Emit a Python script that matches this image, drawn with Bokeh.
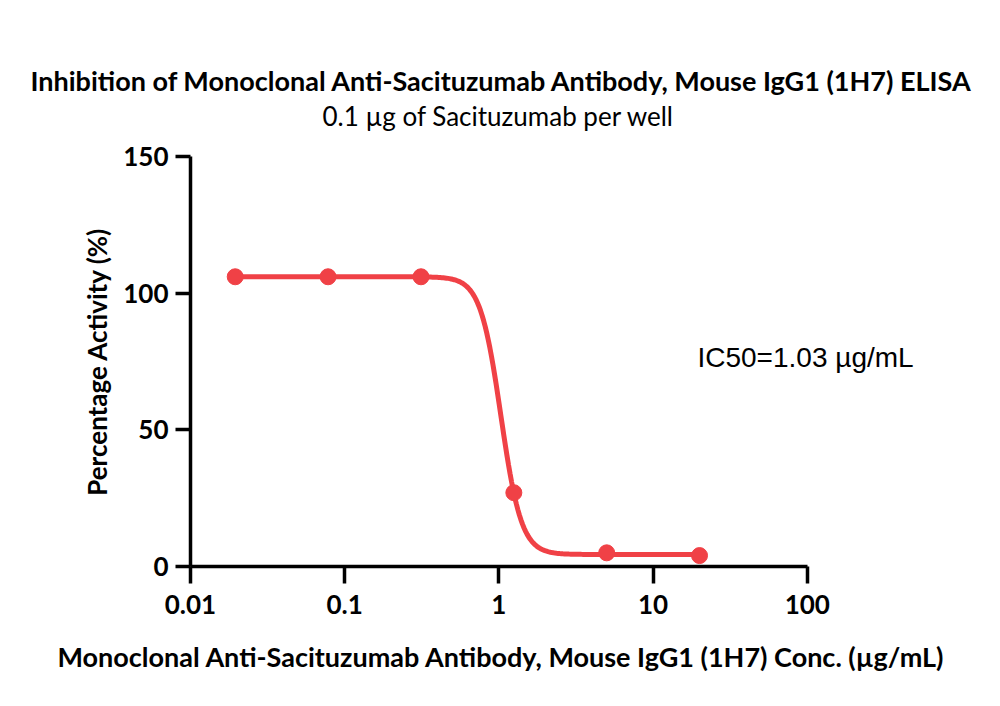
import numpy as np
from bokeh.plotting import figure
from bokeh.models import Title, Label, FixedTicker, Range1d
from bokeh.embed import file_html
from bokeh.resources import INLINE

# measured points (conc in ug/mL, % activity)
conc = [0.0195, 0.078, 0.3125, 1.25, 5.0, 20.0]
activity = [106.0, 106.0, 106.0, 27.0, 5.0, 4.0]

# 4PL fit parameters
fit_top = 106.0
fit_bottom = 4.4
fit_ic50 = 1.03
fit_hill = 6.5

x_tick_vals = [0.01, 0.1, 1, 10, 100]
x_tick_labels = ["0.01", "0.1", "1", "10", "100"]
y_tick_vals = [0, 50, 100, 150]

RED = "#F04146"
FONT = "Lato"

# x range goes to 1000 so the IC50 note fits inside the frame, axis is bounded to 100
p = figure(width=984, height=693, x_axis_type="log",
           x_range=Range1d(0.01, 1000), y_range=Range1d(0, 150),
           output_backend="svg", toolbar_location=None,
           min_border_left=190, min_border_right=23,
           min_border_top=156, min_border_bottom=127)
p.outline_line_color = None
p.grid.visible = False
p.background_fill_color = "white"
p.border_fill_color = "white"

# blank spacer between the frame and the subtitle
spacer = Title(text=" ", text_font_size="2px", standoff=20)
p.add_layout(spacer, "above")
# titles are left aligned with an offset from the frame's left edge
sub = Title(text="0.1 \u00b5g of Sacituzumab per well", align="left",
            text_font=FONT, text_font_size="26px", text_font_style="normal",
            text_color="black", standoff=2, offset=132)
p.add_layout(sub, "above")
ttl = Title(text="Inhibition of Monoclonal Anti-Sacituzumab Antibody, Mouse IgG1 (1H7) ELISA",
            align="left", text_font=FONT, text_font_size="27px",
            text_font_style="bold", text_color="black", standoff=0, offset=-160)
p.add_layout(ttl, "above")

xlab = Title(text="Monoclonal Anti-Sacituzumab Antibody, Mouse IgG1 (1H7) Conc. (\u00b5g/mL)",
             align="left", text_font=FONT, text_font_size="27px",
             text_font_style="bold", text_color="black", standoff=42, offset=-133)
p.add_layout(xlab, "below")

# fitted curve
xc = np.logspace(np.log10(conc[0]), np.log10(conc[-1]), 300)
yc = fit_bottom + (fit_top - fit_bottom) / (1 + (xc / fit_ic50) ** fit_hill)
p.line(xc, yc, line_color=RED, line_width=5)
p.scatter(conc, activity, size=16, fill_color=RED, line_color=RED)

p.add_layout(Label(x=19.4, y=76.5, text="IC50=%.2f \u00b5g/mL" % fit_ic50,
                   text_font="Liberation Sans", text_font_size="28px",
                   text_baseline="middle", text_color="black"))

for ax in (p.xaxis[0], p.yaxis[0]):
    ax.axis_line_width = 3.5
    ax.axis_line_color = "black"
    ax.major_tick_line_width = 3.5
    ax.major_tick_line_color = "black"
    ax.major_tick_in = 0
    ax.minor_tick_line_color = None
    ax.major_label_text_font = FONT
    ax.major_label_text_font_size = "26px"
    ax.major_label_text_font_style = "bold"
    ax.major_label_text_color = "black"
    ax.axis_label_text_font = FONT
    ax.axis_label_text_font_size = "26px"
    ax.axis_label_text_font_style = "bold"
    ax.axis_label_text_color = "black"

p.xaxis.ticker = FixedTicker(ticks=x_tick_vals)
p.xaxis.bounds = (x_tick_vals[0], x_tick_vals[-1])
p.xaxis.major_label_overrides = dict(zip(x_tick_vals, x_tick_labels))
p.xaxis.major_tick_out = 17
p.xaxis.major_label_standoff = 11

p.yaxis.ticker = FixedTicker(ticks=y_tick_vals)
p.yaxis.major_tick_out = 15
p.yaxis.major_label_standoff = 7
p.yaxis.axis_label = "Percentage Activity (%)"
p.yaxis.axis_label_standoff = 7

open("out.html", "w").write(file_html(p, INLINE))
